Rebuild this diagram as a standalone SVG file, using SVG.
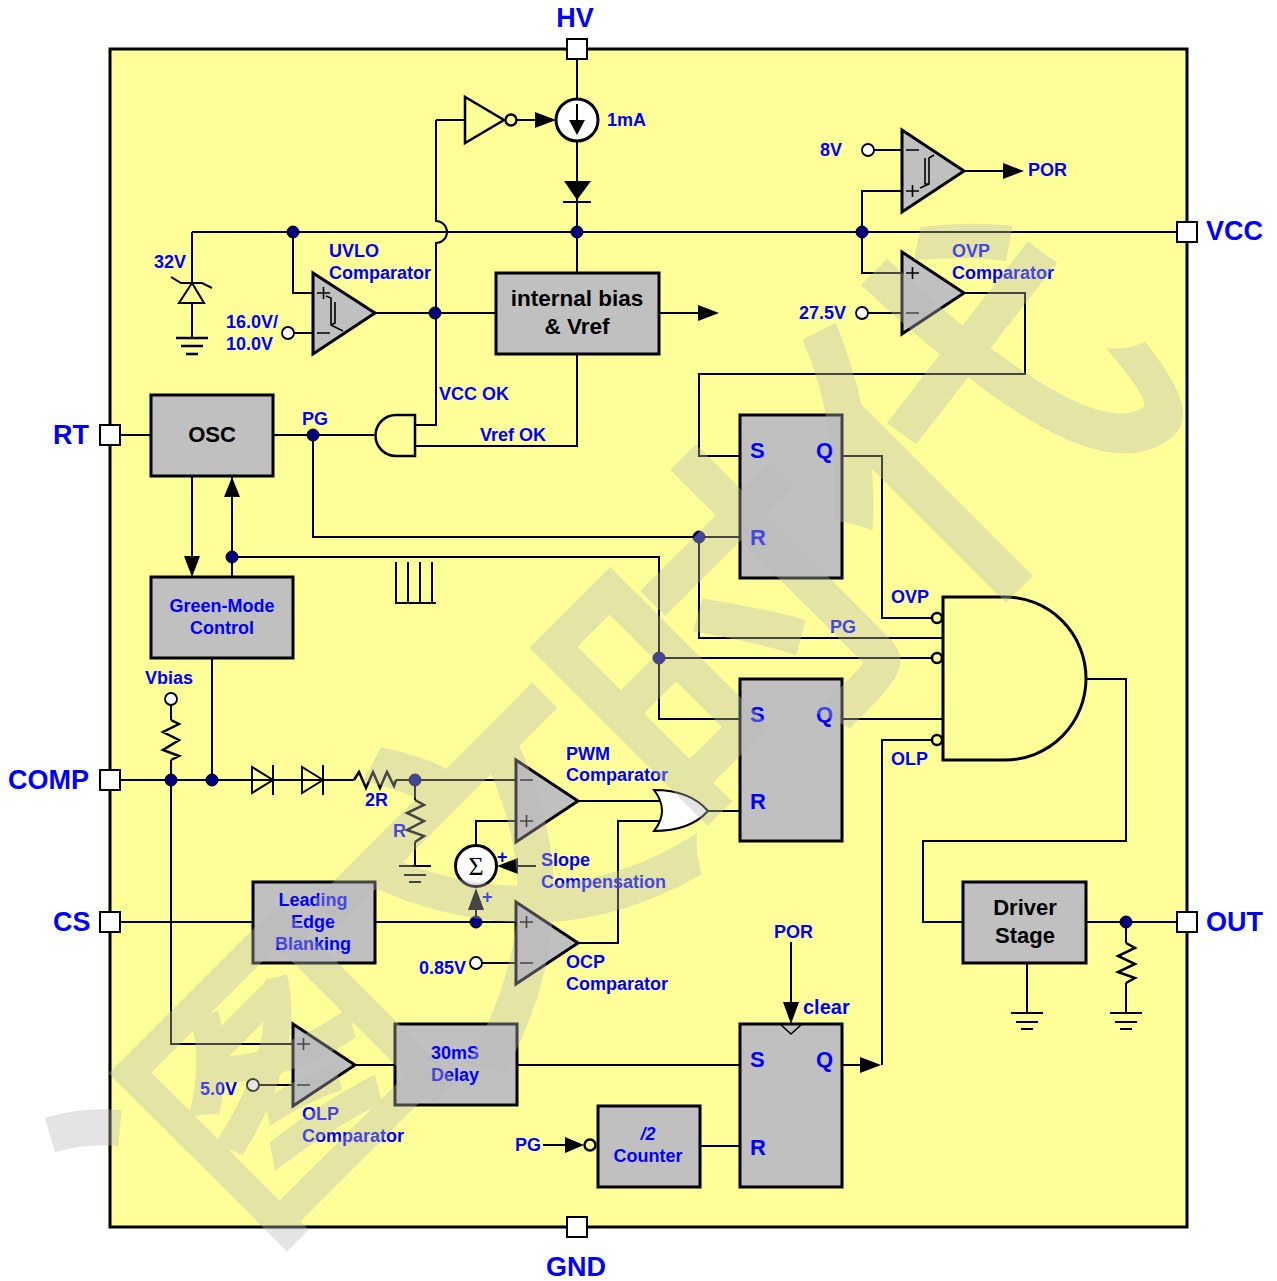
<svg xmlns="http://www.w3.org/2000/svg" width="1277" height="1281" viewBox="0 0 1277 1281">
<style>
text{font-family:"Liberation Sans",Arial,sans-serif;font-weight:bold;fill:#00f}
.pin{font-size:27px}.lb{font-size:18px}.big{font-size:22px;fill:#000}.sq{font-size:22px}
.m{text-anchor:middle}
.wire{fill:none;stroke:#000;stroke-width:2}
.blk{fill:#c0c0c0;stroke:#000;stroke-width:3}
.cmp{fill:#c0c0c0;stroke:#000;stroke-width:3;stroke-linejoin:miter}
.sym{fill:none;stroke:#000;stroke-width:1.6}
.port{fill:#fff;stroke:#000;stroke-width:2}
.dot{fill:#000080;stroke:#000;stroke-width:1}
.oc{fill:#fff;stroke:#000;stroke-width:1.8}
.bub{fill:#ffff99;stroke:#000;stroke-width:2.5}
.ah{fill:#000;stroke:none}
.wm text{font-family:"Noto Sans CJK SC",sans-serif;font-weight:400;font-size:330px;fill:#b8b8b8;stroke:#b8b8b8;stroke-width:11;text-anchor:middle}
</style>
<rect id="chip" x="110" y="49" width="1077" height="1178" fill="#ffff99" stroke="#000" stroke-width="3"/>
<g id="connectors" class="wire">
<path d="M577,49V99M577,141V354M192,232H1187M436,120H465M436,120V221A11,11 0 0 1 436,243V425H416M416,446H577V354"/>
<path d="M192,232V283M192,303V338M293,232V293H313M294,333H313M375,313H496M659,313H700"/>
<path d="M862,232V191H902M862,232V273H902M874,150H902M868,313H902M964,171H1005M964,293H1025V374H699V456H740"/>
<path d="M842,456H882V618H932M120,435H151M273,435H374M313,435V537H740M699,537V638H943M232,477V577M192,476V558M232,557H659V719H740M659,658H932M842,719H943"/>
<path d="M932,740H882V1065M842,1065H862M1086,679H1126V841H923V922H963M1086,922H1177M1126,922V943M1126,983V1013M1027,963V1013"/>
<path d="M120,780H354M396,780H516M171,705V720M171,760V780M212,658V780M171,780V1044H293M415,780V800M415,842V866"/>
<path d="M516,821H476V846M518,866H536M476,910V922M120,922H253M375,922H516M578,801H660M578,943H618V821H660M708,811H740M482,963H516"/>
<path d="M355,1065H395M517,1065H740M259,1085H293M543,1145H566M700,1146H740M791,942V1004M516,120H536"/>
<path d="M171,720L179,724L163,732L179,740L163,750L179,756L171,760M415,800L424,805L407,813L424,821L407,830L424,836L415,842M1126,943L1135,948L1118,956L1135,964L1118,972L1135,978L1126,983M354,780L359,772L366,788L373,772L380,788L387,772L394,786L396,780" stroke-width="2.5"/>
<path class="ah" d="M535,112V128L556,120ZM698,305V321L719,313ZM1003,163V179L1024,171ZM224,497H240L232,477ZM184,556H200L192,577ZM860,1057V1073L881,1065ZM565,1137V1153L584,1145ZM783,1002H799L791,1024ZM518,858V874L497,866ZM468,910H484L476,888Z"/>
<circle class="dot" cx="293" cy="232" r="6"/><circle class="dot" cx="577" cy="232" r="6"/><circle class="dot" cx="862" cy="232" r="6"/><circle class="dot" cx="435" cy="313" r="6"/><circle class="dot" cx="313" cy="435" r="6"/><circle class="dot" cx="699" cy="537" r="6"/><circle class="dot" cx="232" cy="557" r="6"/><circle class="dot" cx="659" cy="658" r="6"/><circle class="dot" cx="171" cy="780" r="6"/><circle class="dot" cx="212" cy="780" r="6"/><circle class="dot" cx="415" cy="780" r="6"/><circle class="dot" cx="476" cy="922" r="6"/><circle class="dot" cx="1126" cy="922" r="6"/>
</g>
<g id="pins">
<rect class="port" x="567" y="39" width="20" height="20"/><text class="pin m" x="575" y="27">HV</text>
<rect class="port" x="1177" y="222" width="20" height="20"/><text class="pin" x="1206" y="240">VCC</text>
<rect class="port" x="100" y="425" width="20" height="20"/><text class="pin" x="53" y="444">RT</text>
<rect class="port" x="100" y="770" width="20" height="20"/><text class="pin" x="8" y="789">COMP</text>
<rect class="port" x="100" y="912" width="20" height="20"/><text class="pin" x="53" y="931">CS</text>
<rect class="port" x="1177" y="912" width="20" height="20"/><text class="pin" x="1206" y="931">OUT</text>
<rect class="port" x="567" y="1217" width="20" height="20"/><text class="pin m" x="576" y="1276">GND</text>
</g>
<g id="current-source"><circle cx="577" cy="120" r="21" fill="#fff" stroke="#000" stroke-width="3"/><path class="wire" d="M577,104V125"/><path class="ah" d="M569,120H585L577,135Z"/><text class="lb" x="607" y="126">1mA</text></g>
<g id="inverter"><path d="M465,97V143L504,120Z" fill="none" stroke="#000" stroke-width="2.5"/><circle class="bub" cx="511" cy="120" r="5.5"/></g>
<g id="hv-diode"><path class="ah" d="M564,181H591L577,200Z"/><path class="wire" d="M563,202H591" stroke-width="2.5"/></g>
<g id="zener"><path d="M192,283L179,303H204Z" fill="none" stroke="#000" stroke-width="2"/><path class="wire" d="M171,277L181,283H202L212,288" stroke-width="2.5"/><text class="lb" x="154" y="268">32V</text></g>
<g id="gnd-zener" class="wire"><path d="M176,338H208M181,346H203M186,354H198" stroke-width="2.5"/></g>
<g id="uvlo"><path class="cmp" d="M313,273V354L375,313Z"/><path class="sym" d="M317,293H330M323.500,287V299M317,333H330M326,296L331,298V325L343,331M335,302V323L331,325"/><text class="lb" x="329" y="257">UVLO</text><text class="lb" x="329" y="279">Comparator</text><circle class="oc" cx="288" cy="333" r="6"/><text class="lb" x="226" y="328">16.0V/</text><text class="lb" x="226" y="350">10.0V</text></g>
<g id="por-comp"><path class="cmp" d="M902,130V212L964,171Z"/><path class="sym" d="M906,150H919M906,191H919M912.500,185V197M934,155L929,158V184L920,188M925,158V184L929,184"/><text class="lb" x="820" y="156">8V</text><circle class="oc" cx="868" cy="150" r="6"/><text class="lb" x="1028" y="176">POR</text></g>
<g id="ovp"><path class="cmp" d="M902,252V334L964,293Z"/><path class="sym" d="M906,273H919M912.500,267V279M906,313H919"/><text class="lb" x="952" y="257">OVP</text><text class="lb" x="952" y="279">Comparator</text><circle class="oc" cx="862" cy="313" r="6"/><text class="lb" x="799" y="319">27.5V</text></g>
<g id="bias"><rect class="blk" x="496" y="273" width="163" height="81"/><text class="big m" x="577" y="306" style="font-size:22.500px">internal bias</text><text class="big m" x="577" y="334" style="font-size:22.500px">&amp; Vref</text></g>
<g id="osc"><rect class="blk" x="151" y="395" width="122" height="81"/><text class="big m" x="212" y="442">OSC</text></g>
<g id="pg-and"><path d="M415,415H396A20.500,20.500 0 0 0 396,456H415Z" fill="none" stroke="#000" stroke-width="2.500"/><text class="lb" x="302" y="425">PG</text><text class="lb" x="439" y="400">VCC OK</text><text class="lb" x="480" y="441">Vref OK</text></g>
<g id="green"><rect class="blk" x="151" y="577" width="142" height="81"/><text class="lb m" x="222" y="612">Green-Mode</text><text class="lb m" x="222" y="634">Control</text></g>
<g id="pulses"><path class="wire" d="M396,562V603M408,562V603M420,562V603M432,562V603M395,603H436"/></g>
<g id="sr1"><rect class="blk" x="740" y="415" width="102" height="163"/><text class="sq" x="750" y="458">S</text><text class="sq" x="816" y="458">Q</text><text class="sq" x="750" y="545">R</text></g>
<g id="sr2"><rect class="blk" x="740" y="679" width="102" height="162"/><text class="sq" x="750" y="722">S</text><text class="sq" x="816" y="722">Q</text><text class="sq" x="750" y="809">R</text></g>
<g id="sr3"><rect class="blk" x="740" y="1024" width="102" height="163"/><path class="sym" d="M780,1024L791,1034L802,1024"/><text class="sq" x="750" y="1067">S</text><text class="sq" x="816" y="1067">Q</text><text class="sq" x="750" y="1155">R</text><text class="lb" x="774" y="938">POR</text><text class="lb" x="803" y="1014" style="font-size:20px">clear</text></g>
<g id="and-big"><path d="M943,597H1005A81,81.500 0 0 1 1005,760H943Z" fill="none" stroke="#000" stroke-width="3"/><circle class="bub" cx="937" cy="618" r="5"/><circle class="bub" cx="937" cy="658" r="5"/><circle class="bub" cx="937" cy="740" r="5"/><text class="lb" x="891" y="603">OVP</text><text class="lb" x="830" y="633">PG</text><text class="lb" x="891" y="765">OLP</text></g>
<g id="vbias"><circle class="oc" cx="171" cy="699" r="6"/><text class="lb" x="145" y="684">Vbias</text></g>
<g id="diodes"><path d="M252,767V793L273,780ZM302,767V793L323,780Z" fill="none" stroke="#000" stroke-width="2"/><path class="wire" d="M273,765V795M323,765V795" stroke-width="2.500"/><text class="lb" x="365" y="806">2R</text><text class="lb" x="393" y="837">R</text></g>
<g id="gnd-r"><path class="wire" d="M399,866H431M404,875H426M409,882H421" stroke-width="2.500"/></g>
<g id="pwm"><path class="cmp" d="M516,760V842L578,801Z"/><path class="sym" d="M520,780H533M520,821H533M526.500,815V827"/><text class="lb" x="566" y="760">PWM</text><text class="lb" x="566" y="781">Comparator</text></g>
<g id="or"><path d="M654,790Q690,790 708,811Q690,831 654,831Q670,811 654,790Z" fill="#fff" stroke="#000" stroke-width="2"/></g>
<g id="sum"><circle cx="476" cy="866" r="20.500" fill="#fff" stroke="#000" stroke-width="3"/><text x="476" y="875" class="m" style="font-family:'Liberation Serif',serif;font-weight:normal;font-size:26px;fill:#000">Σ</text><text class="lb" x="497" y="863">+</text><text class="lb" x="482" y="903">+</text><text class="lb" x="541" y="866">Slope</text><text class="lb" x="541" y="888">Compensation</text></g>
<g id="leb"><rect class="blk" x="253" y="882" width="122" height="81"/><text class="lb m" x="313" y="906">Leading</text><text class="lb m" x="313" y="928">Edge</text><text class="lb m" x="313" y="950">Blanking</text></g>
<g id="ocp"><path class="cmp" d="M516,902V984L578,943Z"/><path class="sym" d="M520,922H533M526.500,916V928M520,963H533"/><circle class="oc" cx="476" cy="963" r="6"/><text class="lb" x="419" y="974">0.85V</text><text class="lb" x="566" y="968">OCP</text><text class="lb" x="566" y="990">Comparator</text></g>
<g id="olp"><path class="cmp" d="M293,1024V1106L355,1065Z"/><path class="sym" d="M297,1044H310M303.500,1038V1050M297,1085H310"/><circle class="oc" cx="253" cy="1085" r="6"/><text class="lb" x="200" y="1095">5.0V</text><text class="lb" x="302" y="1120">OLP</text><text class="lb" x="302" y="1142">Comparator</text></g>
<g id="delay"><rect class="blk" x="395" y="1024" width="122" height="81"/><text class="lb m" x="455" y="1059">30mS</text><text class="lb m" x="455" y="1081">Delay</text></g>
<g id="counter"><rect class="blk" x="598" y="1106" width="102" height="81"/><text class="lb m" x="648" y="1140" style="font-style:italic">/2</text><text class="lb m" x="648" y="1162">Counter</text><circle class="bub" cx="590" cy="1145" r="5.500"/><text class="lb" x="515" y="1151">PG</text></g>
<g id="driver"><rect class="blk" x="963" y="882" width="123" height="81"/><text class="big m" x="1025" y="915">Driver</text><text class="big m" x="1025" y="943">Stage</text><path class="wire" d="M1011,1013H1043M1016,1022H1038M1021,1029H1033M1110,1013H1142M1115,1022H1137M1120,1029H1132" stroke-width="2.500"/></g>
<g class="wm" opacity="0.38" id="watermark">
<text transform="translate(285,1080) rotate(-45)" y="95" style="font-size:275px">图</text>
<text transform="translate(500,870) rotate(-45)" y="115">文</text>
<text transform="translate(730,645) rotate(-45)" y="115">时</text>
<text transform="translate(975,415) rotate(-45)" y="122" style="font-size:350px">代</text>
<path d="M50,1135Q85,1125 120,1128" fill="none" stroke="#b8b8b8" stroke-width="36"/>
</g>
</svg>
